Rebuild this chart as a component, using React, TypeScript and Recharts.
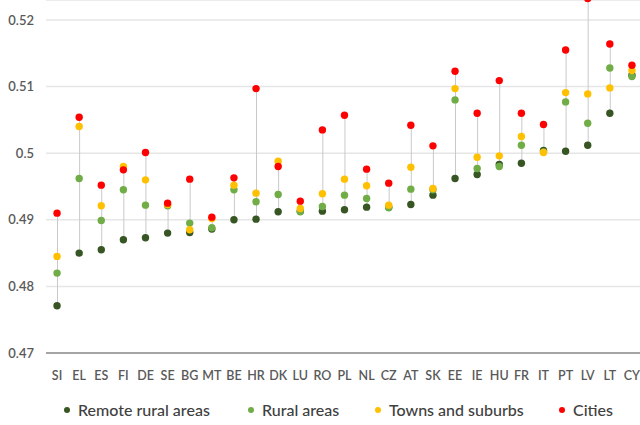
import React from 'react'
import { Bar, CartesianGrid, ComposedChart, Line, XAxis, YAxis } from 'recharts'

const countries = ['SI', 'EL', 'ES', 'FI', 'DE', 'SE', 'BG', 'MT', 'BE', 'HR', 'DK', 'LU', 'RO', 'PL', 'NL', 'CZ', 'AT', 'SK', 'EE', 'IE', 'HU', 'FR', 'IT', 'PT', 'LV', 'LT', 'CY']
const remoteRural = [0.4771, 0.485, 0.4855, 0.487, 0.4873, 0.488, 0.4881, 0.4886, 0.49, 0.4901, 0.4912, 0.4913, 0.4913, 0.4915, 0.4919, 0.4919, 0.4923, 0.4937, 0.4962, 0.4968, 0.4983, 0.4985, 0.5004, 0.5003, 0.5012, 0.506, 0.5117]
const rural = [0.482, 0.4962, 0.4899, 0.4945, 0.4922, 0.4921, 0.4895, 0.4888, 0.4945, 0.4927, 0.4938, 0.4912, 0.492, 0.4937, 0.4932, 0.4918, 0.4946, 0.4945, 0.508, 0.4977, 0.498, 0.5012, 0.5002, 0.5077, 0.5045, 0.5128, 0.5115]
const towns = [0.4845, 0.504, 0.4921, 0.498, 0.496, 0.4923, 0.4885, 0.4902, 0.4952, 0.494, 0.4988, 0.4917, 0.4939, 0.4961, 0.4951, 0.4922, 0.4979, 0.4947, 0.5097, 0.4994, 0.4996, 0.5025, 0.5001, 0.5091, 0.5089, 0.5098, 0.5124]
const cities = [0.491, 0.5054, 0.4952, 0.4975, 0.5001, 0.4925, 0.4961, 0.4904, 0.4963, 0.5097, 0.498, 0.4928, 0.5035, 0.5057, 0.4976, 0.4955, 0.5042, 0.5011, 0.5123, 0.506, 0.5109, 0.506, 0.5043, 0.5155, 0.5232, 0.5164, 0.5132]
const yTicks = [0.47, 0.48, 0.49, 0.5, 0.51, 0.52]

const series = [
  { key: 'remote', name: 'Remote rural areas', color: '#375623' },
  { key: 'rural', name: 'Rural areas', color: '#70AD47' },
  { key: 'towns', name: 'Towns and suburbs', color: '#FFC000' },
  { key: 'cities', name: 'Cities', color: '#FF0000' },
]

const data = countries.map((c, i) => {
  const vals = [remoteRural[i], rural[i], towns[i], cities[i]]
  return {
    country: c,
    remote: remoteRural[i],
    rural: rural[i],
    towns: towns[i],
    cities: cities[i],
    range: [Math.min(...vals), Math.max(...vals)],
  }
})

const font = 'Lato, "Open Sans", sans-serif'

export default function App() {
  return (
    <div style={{ position: 'absolute', left: 0, top: 0, width: 640, height: 425, overflow: 'hidden', background: '#fff', fontFamily: font }}>
      <ComposedChart width={645} height={392} data={data} margin={{ top: 0, right: 2, left: 0, bottom: 0 }}>
        <CartesianGrid vertical={false} stroke="#e6e6e6" strokeWidth={1.5} />
        <XAxis
          dataKey="country"
          interval={0}
          tickLine={false}
          axisLine={{ stroke: '#8c8c8c', strokeWidth: 1.5 }}
          tick={{ fill: '#595959', fontSize: 12.5, fontFamily: font, fontWeight: 600 }}
          tickMargin={12}
          height={39}
        />
        <YAxis
          domain={[0.47, 0.523]}
          ticks={yTicks}
          allowDataOverflow
          tickLine={false}
          axisLine={false}
          width={46}
          tickMargin={6}
          tick={{ fill: '#595959', fontSize: 13, fontFamily: font, fontWeight: 600 }}
        />
        <Bar dataKey="range" barSize={1} fill="#c9c9c9" isAnimationActive={false} legendType="none" />
        {series.map((s) => (
          <Line
            key={s.key}
            dataKey={s.key}
            stroke="none"
            dot={{ r: 3.7, fill: s.color, stroke: 'none' }}
            activeDot={false}
            isAnimationActive={false}
            legendType="none"
          />
        ))}
      </ComposedChart>
      <div style={{ position: 'absolute', top: 400, left: 0, width: 640, color: '#404040', fontSize: 16, fontWeight: 500 }}>
        {series.map((s, i) => (
          <div key={s.key} style={{ position: 'absolute', left: [64, 248, 375, 559][i], display: 'flex', alignItems: 'center', whiteSpace: 'nowrap' }}>
            <span style={{ width: 6, height: 6, borderRadius: 3, background: s.color, marginRight: 8 }} />
            <span>{s.name}</span>
          </div>
        ))}
      </div>
    </div>
  )
}
